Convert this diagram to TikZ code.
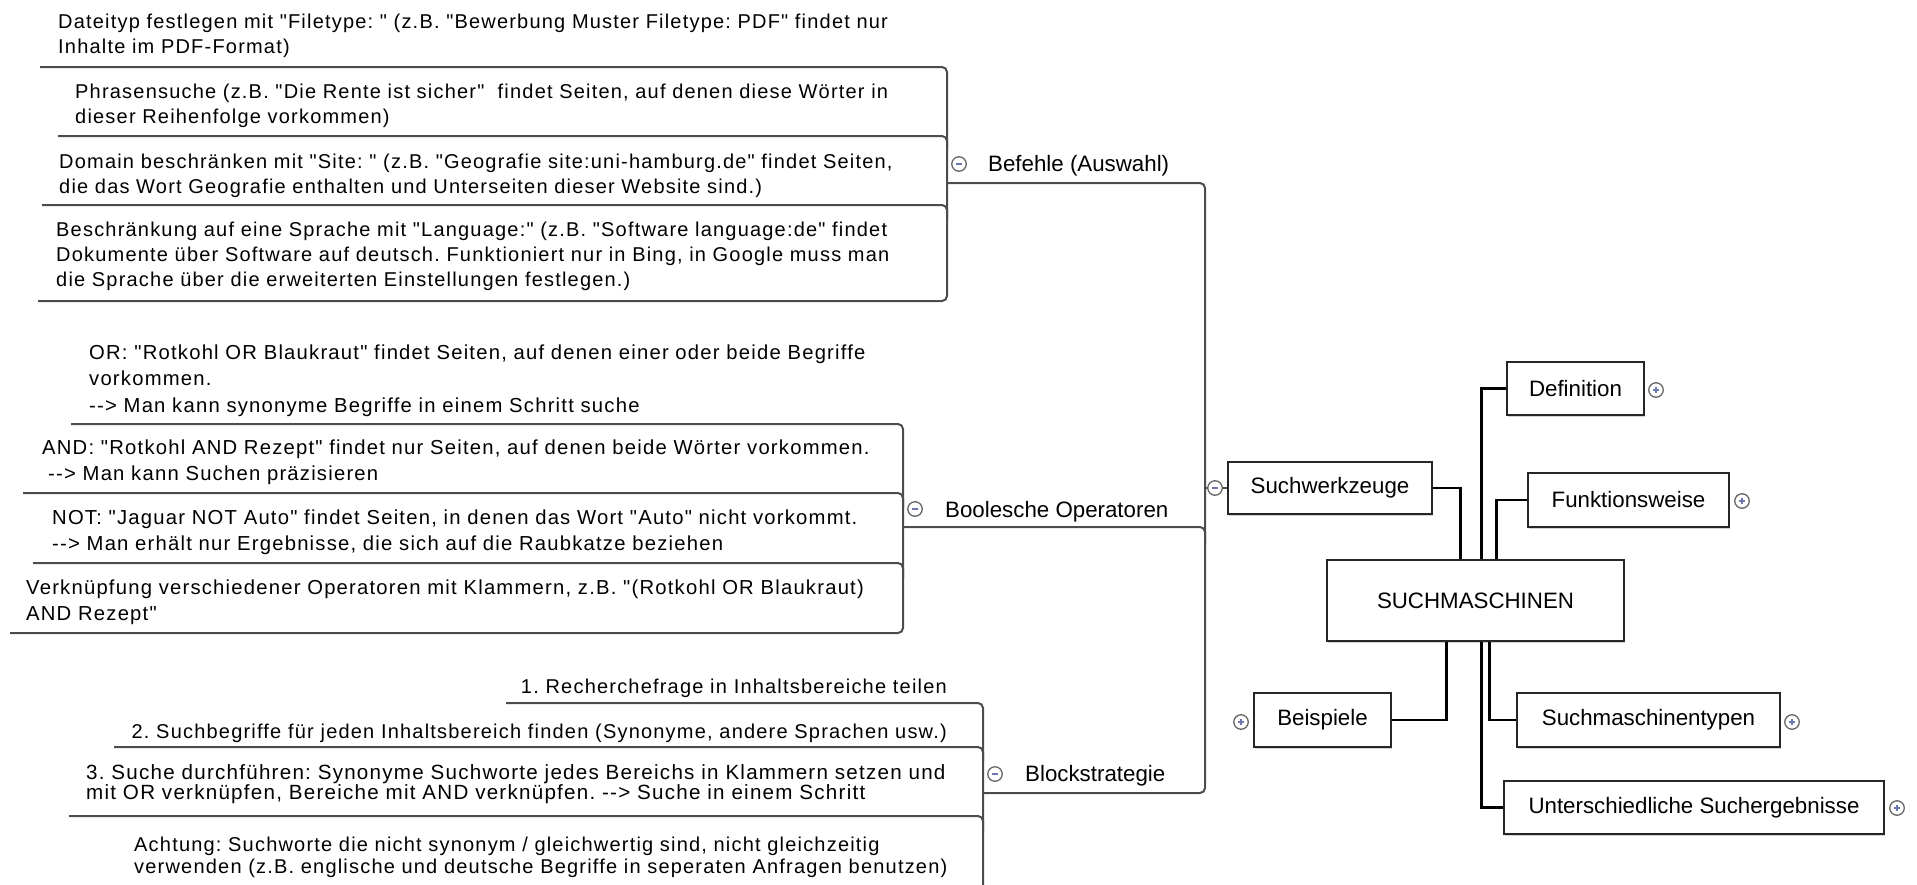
\documentclass[tikz,border=0pt]{standalone}
\usepackage{fontspec}
\setmainfont{Liberation Sans}
\newfontfamily\leaffont[LetterSpace=6]{Liberation Sans}
\usetikzlibrary{shadows}
\definecolor{togsign}{RGB}{110,120,175}

\begin{document}
\frenchspacing
\begin{tikzpicture}[x=1pt,y=-1pt,
  leaf/.style={inner sep=0pt, anchor=base west, align=left, text width=950pt},
  leafA/.style={leaf, font=\leaffont\fontsize{20}{25}\selectfont},
  leafB/.style={leaf, font=\leaffont\fontsize{20.25}{26.6}\selectfont},
  leafC/.style={leaf, font=\leaffont\fontsize{20.6}{20.5}\selectfont},
  leafD/.style={leaf, font=\leaffont\fontsize{20}{22}\selectfont},
  leafR/.style={inner sep=0pt, anchor=base east, font=\leaffont\fontsize{20}{25}\selectfont},
  branch/.style={inner sep=0pt, anchor=base west, font=\fontsize{22.3}{26}\selectfont},
  uline/.style={draw=black!70, line width=2pt, rounded corners=5pt},
  box/.style={draw=black!85, line width=1.5pt, fill=white, inner sep=0pt,
    font=\fontsize{22.3}{26}\selectfont,
    drop shadow={shadow xshift=1.3pt, shadow yshift=-1.5pt, opacity=0.35}},
  conn/.style={draw=black, line width=2.6pt},
  tog/.style={circle, draw=black!60, line width=1.3pt, fill=white, minimum size=14.5pt, inner sep=0pt},
  tminus/.style={tog, path picture={\draw[togsign, line width=1.1pt]
      ([xshift=3.8pt]path picture bounding box.west) -- ([xshift=-3.8pt]path picture bounding box.east);}},
  tplus/.style={tog, path picture={\draw[togsign, line width=1.1pt]
      ([xshift=3.8pt]path picture bounding box.west) -- ([xshift=-3.8pt]path picture bounding box.east)
      ([yshift=-3.8pt]path picture bounding box.north) -- ([yshift=3.8pt]path picture bounding box.south);}}
]
\useasboundingbox (0,0) rectangle (1917,884);
\clip (0,0) rectangle (1917,884);

% ---------- central topic and its main branches ----------
\node[box, minimum width=297pt, minimum height=81pt] (S) at (1475.5,600.5) {SUCHMASCHINEN};
\node[box, minimum width=204pt, minimum height=52pt] (sw) at (1330,488) {Suchwerkzeuge};
\node[box, minimum width=137pt, minimum height=53pt] (def) at (1575.5,388.5) {Definition};
\node[box, minimum width=201pt, minimum height=54pt] (fkt) at (1628.5,500) {Funktionsweise};
\node[box, minimum width=137pt, minimum height=54pt] (bsp) at (1322.5,720) {Beispiele};
\node[box, minimum width=263pt, minimum height=54pt] (typ) at (1648.5,720) {Suchmaschinentypen};
\node[box, minimum width=380pt, minimum height=53pt] (unt) at (1694,807.5) {Unterschiedliche Suchergebnisse};

\draw[conn] (sw.east)  -| ([xshift=134pt]S.north west);
\draw[conn] (def.west) -| ([xshift=155pt]S.north west);
\draw[conn] (fkt.west) -| ([xshift=170pt]S.north west);
\draw[conn] (bsp.east) -| ([xshift=120pt]S.south west);
\draw[conn] (typ.west) -| ([xshift=163pt]S.south west);
\draw[conn] (unt.west) -| ([xshift=155pt]S.south west);

\node[tplus] (tdef) at (1656,390) {};
\node[tplus] (tfkt) at (1742,501) {};
\node[tplus] (tbsp) at (1241,722) {};
\node[tplus] (ttyp) at (1792,722) {};
\node[tplus] (tunt) at (1897,808) {};

% ---------- Suchwerkzeuge: three sub-branches ----------
\node[branch] (befehle) at (988,171) {Befehle (Auswahl)};
\node[branch] (bool) at (945,517) {Boolesche Operatoren};
\node[branch] (block) at (1025,781) {Blockstrategie};

\coordinate (spineT) at (1205,183);
\coordinate (spineB) at (1205,793);
\draw[uline] (947,183) -- (spineT) -- (spineB) -- (983,793);
\draw[uline] (903,527) -- (1205,527) -- (1205,545);
\draw[uline] (1205,488) -- (sw.west);

\node[tminus] (tsw) at (1215,488) {};
\node[tminus] (tbef) at (959,164) {};
\node[tminus] (tbool) at (915,509) {};
\node[tminus] (tblock) at (995,774) {};

% ---------- Befehle (Auswahl) ----------
\node[leafA] (b1) at (58,28) {Dateityp festlegen mit "Filetype: " (z.B. "Bewerbung Muster Filetype: PDF" findet nur\\Inhalte im PDF-Format)};
\node[leafA] (b2) at (75,98) {Phrasensuche (z.B. "Die Rente ist sicher"~ findet Seiten, auf denen diese Wörter in\\dieser Reihenfolge vorkommen)};
\node[leafA] (b3) at (59,168) {Domain beschränken mit "Site: " (z.B. "Geografie site:uni-hamburg.de" findet Seiten,\\die das Wort Geografie enthalten und Unterseiten dieser Website sind.)};
\node[leafA] (b4) at (56,236) {Beschränkung auf eine Sprache mit "Language:" (z.B. "Software language:de" findet\\Dokumente über Software auf deutsch. Funktioniert nur in Bing, in Google muss man\\die Sprache über die erweiterten Einstellungen festlegen.)};

\draw[uline] (40,67) -- (947,67) -- (947,301) -- (38,301);
\draw[uline] (58,136) -- (947,136) -- (947,150);
\draw[uline] (42,205) -- (947,205) -- (947,220);

% ---------- Boolesche Operatoren ----------
\node[leafB] (o1) at (89,359) {OR: "Rotkohl OR Blaukraut" findet Seiten, auf denen einer oder beide Begriffe\\vorkommen.\\-{}-> Man kann synonyme Begriffe in einem Schritt suche};
\node[leafB] (o2) at (42,454) {AND: "Rotkohl AND Rezept" findet nur Seiten, auf denen beide Wörter vorkommen.\\\hspace*{6pt}-{}-> Man kann Suchen präzisieren};
\node[leafB] (o3) at (52,524) {NOT: "Jaguar NOT Auto" findet Seiten, in denen das Wort "Auto" nicht vorkommt.\\-{}-> Man erhält nur Ergebnisse, die sich auf die Raubkatze beziehen};
\node[leafB] (o4) at (26,594) {Verknüpfung verschiedener Operatoren mit Klammern, z.B. "(Rotkohl OR Blaukraut)\\AND Rezept"};

\draw[uline] (71,424) -- (903,424) -- (903,633) -- (10,633);
\draw[uline] (23,493) -- (903,493) -- (903,508);
\draw[uline] (33,563) -- (903,563) -- (903,578);

% ---------- Blockstrategie ----------
\node[leafR] (k1) at (947,693) {1. Recherchefrage in Inhaltsbereiche teilen};
\node[leafR] (k2) at (947,738) {2. Suchbegriffe für jeden Inhaltsbereich finden (Synonyme, andere Sprachen usw.)};
\node[leafC] (k3) at (86,779) {3. Suche durchführen: Synonyme Suchworte jedes Bereichs in Klammern setzen und\\mit OR verknüpfen, Bereiche mit AND verknüpfen. -{}-> Suche in einem Schritt};
\node[leafD] (k4) at (134,851) {Achtung: Suchworte die nicht synonym / gleichwertig sind, nicht gleichzeitig\\verwenden (z.B. englische und deutsche Begriffe in seperaten Anfragen benutzen)};

\draw[uline] (506,703) -- (983,703) -- (983,905) -- (120,905);
\draw[uline] (114,747) -- (983,747) -- (983,762);
\draw[uline] (69,816) -- (983,816) -- (983,831);
\end{tikzpicture}
\end{document}
